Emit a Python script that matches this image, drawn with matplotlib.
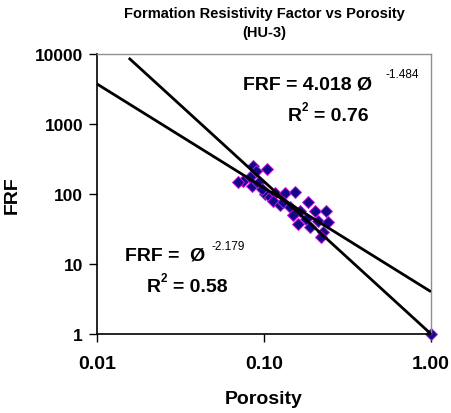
"""
Formation resistivity factor vs porosity (HU-3), log-log cross plot
with two power-law fits.
"""

import numpy as np
import matplotlib
matplotlib.use('Agg')
import matplotlib.pyplot as plt
from matplotlib.ticker import FixedLocator, FixedFormatter, NullLocator

plt.rcParams['font.family'] = ['Liberation Sans', 'DejaVu Sans']

porosity = [0.0859, 0.0896, 0.1042, 0.0748, 0.0698, 0.0825, 0.0847, 0.0921,
            0.1014, 0.1086, 0.1164, 0.1336, 0.1132, 0.1247, 0.1300, 0.1534,
            0.1432, 0.1643, 0.1492, 0.1834, 0.2019, 0.2350, 0.1784, 0.2104,
            0.2416, 0.1885, 0.2255, 0.2193, 0.1598, 0.0973, 1.00]
frf = [251, 213, 228, 153, 148, 175, 130, 144,
       100, 91, 103, 103, 79, 70, 77, 107,
       65, 57, 50, 77, 57, 57, 44, 41,
       40, 34, 29, 24, 37, 118, 1.0]

# Fits
fit1_a, fit1_m = 4.018, -1.484   # R2 = 0.76
fit2_a, fit2_m = 1.0, -2.179     # R2 = 0.58
fit1_range = [0.01, 1.0]
fit2_range = [0.0155, 1.0]

x_ticks = [0.01, 0.1, 1.0]
x_labels = ['0.01', '0.10', '1.00']
y_ticks = [1, 10, 100, 1000, 10000]
y_labels = ['1', '10', '100', '1000', '10000']

W, H = 451, 414
fig = plt.figure(figsize=(W / 100, H / 100), dpi=100)
ax = fig.add_axes([97 / W, 1 - 335 / H, (431 - 97) / W, (335 - 55) / H])
ax.set_xscale('log')
ax.set_yscale('log')
ax.set_xlim(0.01, 1.0)
ax.set_ylim(1, 10000)

# fit lines
for a, m, rng in [(fit1_a, fit1_m, fit1_range), (fit2_a, fit2_m, fit2_range)]:
    xs = np.array(rng)
    ax.plot(xs, a * xs ** m, color='black', lw=2, zorder=3, solid_capstyle='butt')

ax.plot(porosity, frf, 'D', ms=6.5, mfc='#10088a', mec='#c818d8', mew=0.7,
        linestyle='none', zorder=2, clip_on=False)

ax.xaxis.set_major_locator(FixedLocator(x_ticks))
ax.xaxis.set_major_formatter(FixedFormatter(x_labels))
ax.yaxis.set_major_locator(FixedLocator(y_ticks))
ax.yaxis.set_major_formatter(FixedFormatter(y_labels))
ax.xaxis.set_minor_locator(NullLocator())
ax.yaxis.set_minor_locator(NullLocator())
ax.tick_params(axis='x', direction='out', length=6, width=1, labelsize=14, pad=9)
ax.tick_params(axis='y', direction='out', length=6, width=1, labelsize=12.5, pad=4)
for lab in ax.get_xticklabels() + ax.get_yticklabels():
    lab.set_fontweight('bold')

for s in ['left', 'bottom']:
    ax.spines[s].set_color('black')
    ax.spines[s].set_linewidth(1.2)
for s in ['top', 'right']:
    ax.spines[s].set_color('#909090')
    ax.spines[s].set_linewidth(1.0)

ax.set_xlabel('Porosity', fontsize=14, fontweight='bold', labelpad=13)
ax.set_ylabel('FRF', fontsize=14, fontweight='bold', labelpad=10)

fig.text(264 / W, 1 - 14 / H, 'Formation Resistivity Factor vs Porosity',
         ha='center', va='center', fontsize=10.5, fontweight='bold')
fig.text(264 / W, 1 - 33 / H, '(HU-3)',
         ha='center', va='center', fontsize=10.5, fontweight='bold')


def ftext(px, py, s, size=14, weight='bold'):
    fig.text(px / W, 1 - py / H, s, fontsize=size, fontweight=weight, va='center')


# fit 1 annotation
ftext(243, 85, 'FRF = 4.018 \u00d8')
ftext(386, 75, '-1.484', size=8.5, weight='normal')
ftext(288, 117, 'R')
ftext(302, 108, '2', size=8.5)
ftext(314, 117, '= 0.76')

# fit 2 annotation
ftext(125, 256, 'FRF =  \u00d8')
ftext(212, 247, '-2.179', size=8.5, weight='normal')
ftext(147, 288, 'R')
ftext(161, 279, '2', size=8.5)
ftext(173, 288, '= 0.58')

fig.savefig('out.png', dpi=100)
